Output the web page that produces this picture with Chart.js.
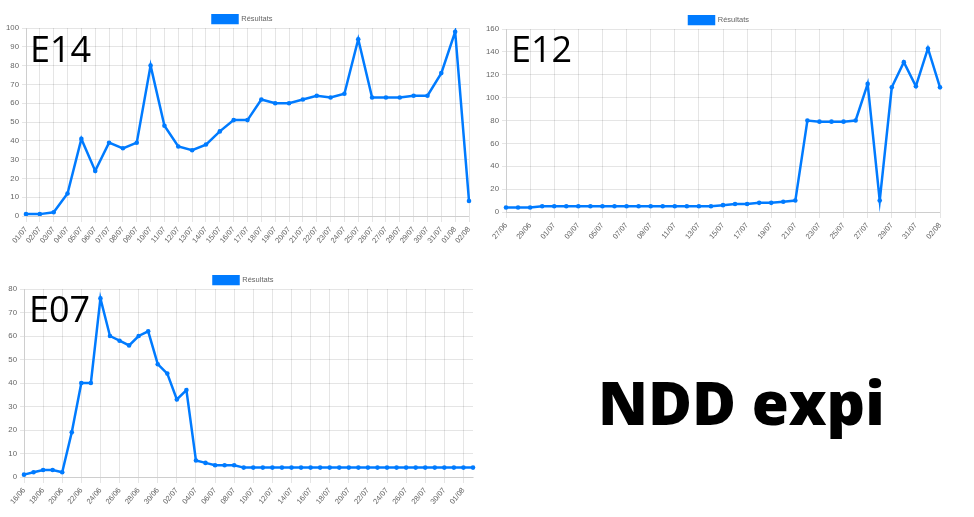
<!DOCTYPE html>
<html>
<head>
<meta charset="utf-8">
<script src="https://cdn.jsdelivr.net/npm/chart.js@4/dist/chart.umd.min.js"></script>
<style>
  html, body { margin: 0; padding: 0; background: #fff; }
  body { width: 974px; height: 517px; position: relative; overflow: hidden; }
  .box { position: absolute; }
  .lbl { position: absolute; font-family: "Open Sans", "Noto Sans", sans-serif; color: #000; line-height: 1; white-space: nowrap; }
  .big { font-size: 36px; font-weight: 400; }
  .title { font-size: 60px; font-weight: 800; }
</style>
</head>
<body>
<div class="box" style="left:0;top:0;"><canvas id="c1" width="480" height="249"></canvas></div>
<div class="box" style="left:480px;top:0;"><canvas id="c2" width="470" height="245"></canvas></div>
<div class="box" style="left:0;top:262px;"><canvas id="c3" width="485" height="248"></canvas></div>

<div class="lbl big" style="left:30px;top:31px;">E14</div>
<div class="lbl big" style="left:511px;top:31px;">E12</div>
<div class="lbl big" style="left:29px;top:291px;">E07</div>
<div class="lbl title" style="left:598px;top:372px;">NDD expi</div>

<script>
// ---- E14 ----
const labelsE14 = ["01/07","02/07","03/07","04/07","05/07","06/07","07/07","08/07","09/07","10/07","11/07","12/07","13/07","14/07","15/07","16/07","17/07","18/07","19/07","20/07","21/07","22/07","23/07","24/07","25/07","26/07","27/07","28/07","29/07","30/07","31/07","01/08","02/08"];
const valuesE14 = [1,1,2,12,41,24,39,36,39,80,48,37,35,38,45,51,51,62,60,60,62,64,63,65,94,63,63,63,64,64,76,98,8];

// ---- E12 ----
const labelsE12 = ["27/06","28/06","29/06","30/06","01/07","02/07","03/07","04/07","05/07","06/07","07/07","08/07","09/07","10/07","11/07","12/07","13/07","14/07","15/07","16/07","17/07","18/07","19/07","20/07","21/07","22/07","23/07","24/07","25/07","26/07","27/07","28/07","29/07","30/07","31/07","01/08","02/08"];
const valuesE12 = [4,4,4,5,5,5,5,5,5,5,5,5,5,5,5,5,5,5,6,7,7,8,8,9,10,80,79,79,79,80,112,10,109,131,110,143,109];

// ---- E07 ----
const labelsE07 = ["16/06","17/06","18/06","19/06","20/06","21/06","22/06","23/06","24/06","25/06","26/06","27/06","28/06","29/06","30/06","01/07","02/07","03/07","04/07","05/07","06/07","07/07","08/07","09/07","10/07","11/07","12/07","13/07","14/07","15/07","16/07","17/07","18/07","19/07","20/07","21/07","22/07","23/07","24/07","25/07","26/07","27/07","28/07","29/07","30/07","31/07","01/08","02/08"];
const valuesE07 = [1,2,3,3,2,19,40,40,76,60,58,56,60,62,48,44,33,37,7,6,5,5,5,4,4,4,4,4,4,4,4,4,4,4,4,4,4,4,4,4,4,4,4,4,4,4,4,4];

const seriesName = "Résultats";
const blue = "#007bff";

Chart.defaults.font.family = "'Liberation Sans', 'Helvetica Neue', Arial, sans-serif";
Chart.defaults.color = "#666";

// shrink the space below the legend a little and nudge it sideways
function legendTrim(dx) {
  return {
    id: "legendTrim",
    beforeUpdate(chart) {
      const lg = chart.legend;
      if (lg && !lg._trimmed) {
        const origFit = lg.fit;
        lg.fit = function () { origFit.call(this); this.height -= 5; };
        const origDraw = lg.draw;
        lg.draw = function () {
          const ctx = this.ctx;
          ctx.save();
          ctx.translate(dx, 0);
          origDraw.call(this);
          ctx.restore();
        };
        lg._trimmed = true;
      }
    }
  };
}

function makeChart(id, labels, values, yMax, yStep, yWidth, padTop, padRight, skip, dx) {
  return new Chart(document.getElementById(id), {
    type: "line",
    data: {
      labels: labels,
      datasets: [{
        label: seriesName,
        data: values,
        borderColor: blue,
        backgroundColor: blue,
        borderWidth: 2.5,
        pointRadius: 2.3,
        pointBorderWidth: 0,
        pointBackgroundColor: blue,
        pointBorderColor: blue,
        tension: 0,
        fill: false
      }]
    },
    plugins: [legendTrim(dx)],
    options: {
      responsive: false,
      animation: false,
      devicePixelRatio: 1,
      layout: { padding: { left: 0, right: padRight, top: padTop, bottom: 0 } },
      plugins: {
        legend: {
          display: true,
          labels: { boxWidth: 25, boxHeight: 8, font: { size: 7.5 }, padding: 1, color: "#666" }
        },
        tooltip: { enabled: false }
      },
      scales: {
        x: {
          grid: { color: "rgba(0,0,0,0.1)", tickLength: 6 },
          ticks: { font: { size: 7.5 }, minRotation: 50, maxRotation: 50, autoSkip: skip, color: "#666" },
          afterFit: (s) => { s.height = 33; }
        },
        y: {
          min: 0, max: yMax,
          grid: { color: "rgba(0,0,0,0.1)", tickLength: 4 },
          ticks: { stepSize: yStep, font: { size: 7.8 }, color: "#666", padding: 3 },
          afterFit: (s) => { s.width = yWidth; }
        }
      }
    }
  });
}

makeChart("c1", labelsE14, valuesE14, 100, 10, 26, 14, 11, false, 8);
makeChart("c2", labelsE12, valuesE12, 160, 20, 26, 15, 10, true, 9);
makeChart("c3", labelsE07, valuesE07, 80, 10, 24, 13, 12, true, 7);
</script>
</body>
</html>
